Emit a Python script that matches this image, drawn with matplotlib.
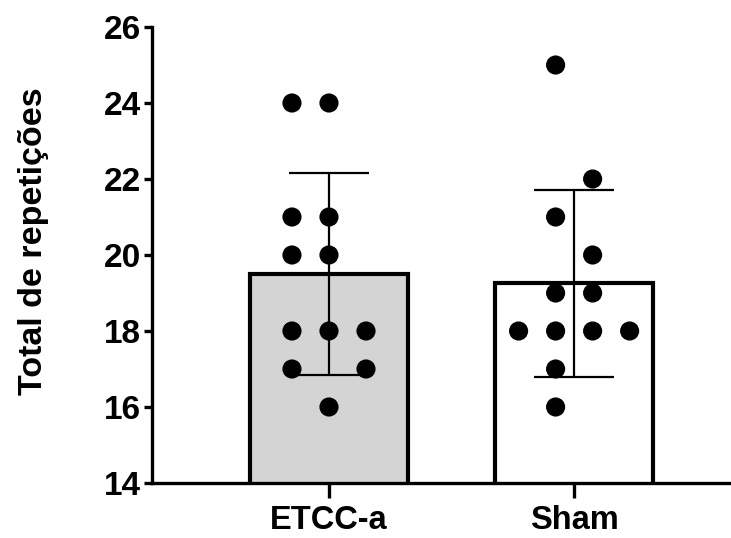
import numpy as np
import matplotlib
matplotlib.use("Agg")
import matplotlib.pyplot as plt

plt.rcParams['font.family'] = ['Liberation Sans', 'DejaVu Sans']
plt.rcParams['font.weight'] = 'bold'

groups = ["ETCC-a", "Sham"]
etcc_values = [24, 24, 21, 21, 20, 20, 18, 18, 18, 17, 17, 16]
sham_values = [25, 22, 21, 20, 19, 19, 18, 18, 18, 18, 17, 16]
bar_colors = ["#d4d4d4", "white"]

# swarm slots (in dot widths) as laid out in the original figure
etcc_slots = [-1, 0, -1, 0, -1, 0, -1, 0, 1, -1, 1, 0]
sham_slots = [-0.5, 0.5, -0.5, 0.5, -0.5, 0.5, -1.5, -0.5, 0.5, 1.5, -0.5, -0.5]

all_values = [etcc_values, sham_values]
all_slots = [etcc_slots, sham_slots]

fig = plt.figure(figsize=(7.31, 5.38), dpi=100)
ax = fig.add_axes([152 / 731, 55 / 538, 579 / 731, 456 / 538])

x = np.arange(len(groups))
means = [np.mean(v) for v in all_values]
sds = [np.std(v, ddof=1) for v in all_values]
dot_gap = 0.151

ax.bar(x, means, width=0.645, color=bar_colors, edgecolor="black", linewidth=3, zorder=1)
ax.errorbar(x, means, yerr=sds, fmt="none", ecolor="black", elinewidth=1.6,
            capsize=29, capthick=1.6, zorder=2)

for i, (vals, slots) in enumerate(zip(all_values, all_slots)):
    xs = x[i] + np.array(slots) * dot_gap
    ax.scatter(xs, vals, s=190, color="black", edgecolors="none", zorder=3)

ax.set_xlim(-0.722, 1.64)
ax.set_ylim(14, 26)
ax.set_yticks(np.arange(14, 27, 2))
ax.set_xticks(x)
ax.set_xticklabels(groups)

for side in ["top", "right"]:
    ax.spines[side].set_visible(False)
for side in ["left", "bottom"]:
    ax.spines[side].set_linewidth(2.4)

ax.tick_params(axis="y", length=6, width=2.4, labelsize=24, pad=2)
ax.tick_params(axis="x", length=11, width=2.4, labelsize=23.5, pad=5)
for lbl in ax.get_xticklabels() + ax.get_yticklabels():
    lbl.set_fontweight("bold")

ax.set_ylabel("Total de repetições", fontsize=24.5, fontweight="bold")
ax.yaxis.set_label_coords(-0.178, 0.531)

fig.savefig("out.png", dpi=100)
